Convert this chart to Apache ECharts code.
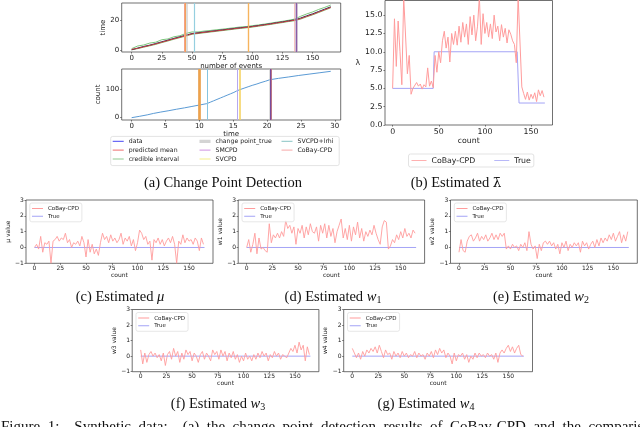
<!DOCTYPE html>
<html><head><meta charset="utf-8">
<script src="https://cdn.jsdelivr.net/npm/echarts@6.0.0/dist/echarts.min.js"></script>
<style>html,body{margin:0;padding:0;background:#fff;overflow:hidden}#c{width:640px;height:427px}</style>
</head><body><div id="c"></div>
<script>
// ---------- DATA ----------
// (a) event times sampled every 5 events
const eventCounts = [0,5,10,15,20,25,30,35,40,45,50,55,60,65,70,75,80,85,90,95,100,105,110,115,120,125,130,135,140,145,150,155,160,165];
const eventTimes = [0.0,1.2,2.3,3.2,4.3,5.5,6.6,7.8,8.9,10.0,11.1,11.6,12.1,12.6,13.1,13.6,14.1,14.6,15.1,15.5,16.0,16.6,17.2,17.8,18.5,19.1,19.8,20.4,21.7,23.2,24.6,26.2,27.8,29.4];
const predMeanTimes = [0.3,1.0,2.0,3.0,4.0,5.2,6.3,7.5,8.6,9.7,10.9,11.4,11.9,12.4,12.9,13.4,13.9,14.4,14.9,15.3,15.8,16.4,17.0,17.6,18.3,18.9,19.6,20.2,21.3,22.8,24.2,25.8,27.4,29.0];
const credUpperTimes = [0.8,2.6,3.3,4.6,5.2,6.9,7.4,8.9,9.6,11.2,12.2,12.2,12.8,13.2,13.7,14.1,14.6,15.1,15.6,15.9,16.5,17.0,17.6,18.2,18.9,19.5,20.2,21.0,22.9,24.5,25.9,27.6,29.0,30.6];
const credLowerTimes = [0.0,0.8,1.8,2.7,3.7,4.9,6.0,7.2,8.3,9.4,10.6,11.1,11.6,12.1,12.6,13.1,13.6,14.1,14.6,15.0,15.5,16.1,16.7,17.3,18.0,18.6,19.3,19.9,21.0,22.5,23.9,25.5,27.1,28.7];
// change points: in events (top panel) and in time (bottom panel)
const cpTrueEvents = [45, 136],   cpTrueTimes = [10.0, 20.5];
const svcpdEvents = [44, 97],     svcpdTimes = [10.0, 15.9];
const svcpdLrhiEvents = [52],     svcpdLrhiTimes = [11.2];
const smcpdEvents = [136],        smcpdTimes = [15.6, 20.5];
const cobayEvents = [44, 135],    cobayTimes = [20.6];
// estimates sampled every 2 counts (0..164)
const countStep = 2;
const lamEst = [5.0,14.5,8.0,14.2,10.0,5.5,17.5,17.5,7.0,9.5,
 4.2,5.0,4.8,5.8,5.3,5.6,4.9,5.5,5.2,7.8,
 5.3,6.0,5.1,9.5,7.2,10.0,8.5,11.5,12.8,10.5,
 12.0,8.6,12.5,11.0,12.8,10.9,13.5,11.3,14.0,12.0,
 13.8,11.0,14.8,12.3,15.0,11.5,13.5,17.5,11.0,15.2,
 12.5,14.0,12.0,13.8,11.8,15.0,12.7,13.5,11.5,13.7,
 12.0,13.2,11.2,13.0,12.4,11.5,11.0,8.5,17.5,17.5,
 5.2,4.3,3.5,4.5,3.4,4.2,3.6,4.4,3.2,4.8,
 4.0,4.7,3.8];
const lamTrueX = [0,44,45,135,137,165];
const lamTrueY = [5,5,10,10,3,3];
const muEst = [0.0,0.2,-0.1,0.7,-0.3,0.3,0.2,0.4,-1.0,0.4,
 0.5,0.7,0.4,0.6,0.5,0.9,0.3,0.5,0.0,0.3,
 0.2,0.4,0.1,0.7,0.3,-0.6,0.5,-0.3,0.2,-0.4,
 -0.1,-0.5,0.3,0.9,0.5,0.7,0.3,0.8,0.4,0.6,
 0.3,0.5,0.9,0.2,0.6,0.4,0.7,0.1,0.5,-0.2,
 0.3,1.1,0.9,0.5,0.7,0.2,0.4,-0.8,0.5,0.3,
 0.6,0.2,0.5,0.1,0.4,0.6,0.3,0.7,0.2,-1.0,
 0.4,0.2,0.8,0.3,0.6,0.4,0.5,0.2,0.6,0.4,
 -0.2,0.6,0.2];
const w1Est = [0.0,0.5,-0.3,0.2,0.9,-0.4,0.6,-0.1,0.0,-0.2,
 -0.3,1.5,0.3,0.8,0.6,0.9,0.6,1.0,0.7,1.7,
 1.2,1.4,0.9,1.3,0.2,1.2,0.9,1.4,0.6,1.3,
 0.8,1.5,1.0,0.9,1.3,0.4,1.4,0.9,1.5,0.6,
 1.4,0.7,1.2,0.3,1.0,1.4,1.8,0.6,1.2,0.5,
 1.4,0.4,1.3,0.8,1.6,0.6,1.2,0.4,1.0,0.7,
 1.1,0.8,1.4,0.9,0.5,0.2,1.3,1.7,1.6,-0.1,
 0.1,0.5,0.3,0.8,0.5,1.0,0.6,1.2,0.7,0.9,
 0.6,1.1,0.9];
const w2Est = [-0.3,0.5,-0.2,-0.3,0.4,0.7,0.8,0.4,0.6,0.9,
 0.4,0.7,0.5,0.8,0.4,0.6,0.9,0.5,0.8,0.5,
 0.9,0.7,0.9,-0.1,0.1,-0.1,0.2,0.0,0.1,-0.2,
 0.2,0.0,0.3,-0.2,1.0,0.2,-0.1,0.1,-0.7,0.2,
 -0.2,0.3,0.4,0.2,0.4,0.1,0.3,-0.1,0.2,-0.4,
 0.3,0.0,0.4,-0.2,0.2,0.0,0.3,0.1,0.3,-0.3,
 0.4,0.1,0.3,-0.1,0.2,0.4,0.0,0.5,0.1,0.6,
 0.3,0.6,0.4,0.8,0.5,0.9,0.4,0.7,1.0,0.3,
 0.8,0.4,1.0];
const w3Est = [0.4,-0.5,0.2,-0.4,0.1,0.3,0.0,0.2,-0.1,0.1,
 -0.3,0.2,-0.6,0.1,0.3,-0.2,0.5,0.0,0.3,-0.4,
 0.2,-0.2,0.4,0.1,0.3,-0.3,0.2,0.0,-0.4,0.1,
 0.3,-0.2,0.2,0.0,-0.3,0.4,0.1,0.3,-0.2,0.4,
 0.0,0.3,-0.3,0.2,-0.1,0.3,-0.2,0.1,-0.4,0.0,
 -0.3,0.2,-0.2,0.0,-0.3,0.1,-0.2,0.2,-0.1,0.3,
 0.0,0.2,-0.3,0.1,-0.1,0.3,0.0,0.2,-0.2,0.1,
 0.0,-0.1,0.2,0.5,0.3,0.7,0.2,0.9,0.4,0.7,
 -0.3,0.6,0.1];
const w4Est = [0.5,0.2,-0.1,0.2,-0.2,0.3,0.0,0.4,0.2,0.5,
 0.3,0.6,0.2,0.7,0.3,-0.1,0.4,0.1,0.2,-0.2,
 0.3,0.0,0.2,-0.1,0.3,0.0,0.2,-0.1,0.1,0.0,
 0.3,-0.1,0.2,0.0,0.1,-0.2,0.2,0.0,0.3,-0.1,
 0.4,0.1,0.5,0.2,0.4,-0.1,0.2,0.0,-0.5,0.2,
 -0.3,0.1,0.0,0.2,-0.2,0.1,-0.4,0.0,-0.2,0.2,
 -0.1,0.2,0.0,0.1,-0.1,0.2,0.0,0.1,-0.2,0.2,
 -0.4,0.2,0.4,0.2,0.5,0.7,0.3,0.6,0.2,0.5,
 0.7,0.1,0.0];
const trueWX = [0,165];
const trueWY = [0,0];
// tick labels
const eventTicks = [0,25,50,75,100,125,150];
const timeYTicks = [0,20];
const timeTicks = [0,5,10,15,20,25,30];
const countYTicks = [0,100];
const lamCountTicks = [0,50,100,150];
const lamTicks = [0,2.5,5,7.5,10,12.5,15];
const countTicks = [0,25,50,75,100,125,150];
const wTicks = [-1,0,1,2,3];

// ---------- CHART ----------
const SANS = 'DejaVu Sans';
const SERIF = 'Liberation Serif';
const PINK = '#ff9c9c', LAV = '#a4a4f6';
const chart = echarts.init(document.getElementById('c'), null, {renderer:'canvas', width:640, height:427});

const fmtNum = v => (v < 0 ? '\u2212' + (-v) : String(v));
function mkAxis(kind, gi, min, max, ticks, o) {
  const fs = o.fs;
  const ax = {
    type:'value', gridIndex:gi, min:min, max:max,
    position: kind === 'x' ? 'bottom' : 'left',
    axisLine:{show:false, onZero:false},
    splitLine:{show:false},
    axisTick:{show:true, inside:false, length:1.6, lineStyle:{color:'#333', width:0.6}, customValues:ticks},
    axisLabel:{show:true, customValues:ticks, fontSize:fs, fontFamily:SANS, color:'#222', margin:o.margin || 2.6, formatter:o.fmt || fmtNum, hideOverlap:false},
    name:o.name, nameLocation:'middle', nameGap:o.gap,
    nameTextStyle:{fontSize:o.nfs || fs, fontFamily:SANS, color:'#222'}
  };
  if (o.rot !== undefined) ax.nameRotate = o.rot;
  return ax;
}
const gridBase = {show:true, borderColor:'#333', borderWidth:0.7, backgroundColor:'transparent', containLabel:false, outerBoundsMode:'none'};
const grids = [
  {left:121.7, top:3, width:219, height:49},
  {left:121.7, top:69, width:219, height:51},
  {left:385, top:0.5, width:167.5, height:124.5},
  {left:26, top:200, width:187, height:63.3},
  {left:238.2, top:200, width:186.4, height:63.3},
  {left:450.5, top:200, width:186.8, height:63.3},
  {left:132.2, top:309.5, width:186.7, height:62.2},
  {left:343.7, top:309.5, width:188.8, height:62.2}
].map(g => Object.assign({}, gridBase, g));

const xAxes = [
  mkAxis('x',0,-8.25,173.25,eventTicks,{fs:7,name:'number of events',gap:6.5}),
  mkAxis('x',1,-1.47,30.87,timeTicks,{fs:7,name:'time',gap:7}),
  mkAxis('x',2,-8.25,173.25,lamCountTicks,{fs:7.8,name:'count',gap:8.5})
];
const yAxes = [
  mkAxis('y',0,-1.5,32,timeYTicks,{fs:7,name:'time',gap:12}),
  mkAxis('y',1,-8.25,173.25,countYTicks,{fs:7,name:'count',gap:15}),
  mkAxis('y',2,0,17,lamTicks,{fs:7.8,name:'\u03bb',gap:19,rot:0,fmt:v=>v.toFixed(1)})
];
const wNames = ['\u03bc value','w1 value','w2 value','w3 value','w4 value'];
for (let k = 0; k < 5; k++) {
  xAxes.push(mkAxis('x',3+k,-8.25,173.25,countTicks,{fs:6,name:'count',gap:7.5,margin:2.2}));
  yAxes.push(mkAxis('y',3+k,-1,3,wTicks,{fs:6,name:wNames[k],gap:9.5,margin:2.2}));
}

function line(name, gi, data, color, width, z) {
  return {type:'line', name:name, xAxisIndex:gi, yAxisIndex:gi, data:data, showSymbol:false, symbol:'none',
    lineStyle:{color:color, width:width}, itemStyle:{color:color}, z:z || 2, animation:false, silent:true, emphasis:{disabled:true}};
}
function vlines(name, gi, items, z) {
  return {type:'line', name:name, xAxisIndex:gi, yAxisIndex:gi, data:[], animation:false, silent:true, z:z || 3,
    itemStyle:{color:items[0].c},
    markLine:{silent:true, symbol:['none','none'], label:{show:false}, animation:false, emphasis:{disabled:true},
      data:items.map(it => ({xAxis:it.v, lineStyle:{color:it.c, width:it.w, type:'solid', opacity:it.o || 1}}))}};
}
const sampled = arr => arr.map((v, i) => [i * countStep, v]);
const pairs = (xs, ys) => xs.map((x, i) => [x, ys[i]]);

const series = [
  line('credible interval', 0, pairs(eventCounts, credUpperTimes), '#5cb85c', 0.8, 2),
  line('credible interval', 0, pairs(eventCounts, credLowerTimes), '#5cb85c', 0.8, 2),
  line('data', 0, pairs(eventCounts, eventTimes), '#1d1d55', 1, 3),
  line('predicted mean', 0, pairs(eventCounts, predMeanTimes), '#d63c3c', 0.9, 4),
  vlines('change point_true', 0, cpTrueEvents.map(v => ({v:v, c:'#bdbdbd', w:3, o:0.5}))),
  vlines('SVCPD', 0, svcpdEvents.map((v, i) => ({v:v, c:i ? '#f6b45e' : '#f3a15a', w:i ? 1.4 : 2}))),
  vlines('SVCPD+lrhi', 0, svcpdLrhiEvents.map(v => ({v:v, c:'#95cfe0', w:1.2}))),
  vlines('SMCPD', 0, smcpdEvents.map(v => ({v:v, c:'#8c5aa8', w:1.4}))),
  vlines('CoBay-CPD', 0, cobayEvents.map(v => ({v:v, c:'#f2a0a0', w:0.8, o:0.8}))),

  line('data', 1, pairs(eventTimes, eventCounts), '#5b9bd5', 1, 3),
  vlines('change point_true', 1, cpTrueTimes.map(v => ({v:v, c:'#bdbdbd', w:3, o:0.5}))),
  vlines('SVCPD', 1, svcpdTimes.map((v, i) => ({v:v, c:i ? '#f5d15a' : '#efa24a', w:i ? 1.5 : 2.6}))),
  vlines('SVCPD+lrhi', 1, svcpdLrhiTimes.map(v => ({v:v, c:'#86c4e0', w:1}))),
  vlines('SMCPD', 1, smcpdTimes.map((v, i) => ({v:v, c:i ? '#7a4b9c' : '#b6a8f0', w:i ? 2 : 1}))),
  vlines('CoBay-CPD', 1, cobayTimes.map(v => ({v:v, c:'#c98080', w:0.8}))),

  line('CoBay-CPD', 2, sampled(lamEst), PINK, 1, 3),
  line('True', 2, pairs(lamTrueX, lamTrueY), LAV, 1, 2)
];
[muEst, w1Est, w2Est, w3Est, w4Est].forEach((arr, k) => {
  series.push(line('CoBay-CPD', 3 + k, sampled(arr), PINK, 0.9, 3));
  series.push(line('True', 3 + k, pairs(trueWX, trueWY), LAV, 1, 2));
});

function icon(w, h, th) {
  const a = (h - th) / 2, b = (h + th) / 2;
  return 'path://M0,0L0.001,0M0,' + a + 'L' + w + ',' + a + 'L' + w + ',' + b + 'L0,' + b + 'ZM' + w + ',' + h + 'L' + (w - 0.001) + ',' + h;
}
function legItem(name, color, w, h, th) {
  return {name:name, icon:icon(w, h, th), itemStyle:{color:color, borderWidth:0}};
}
const LA = {w:11, h:7.5};
function legendA(left, items) {
  return {orient:'vertical', left:left, top:137.6, padding:0, itemWidth:LA.w, itemHeight:LA.h, itemGap:1.3,
    selectedMode:false, itemStyle:{borderWidth:0},
    textStyle:{fontSize:6.2, lineHeight:7.5, fontFamily:SANS, color:'#222'},
    data:items.map(it => legItem(it[0], it[1], LA.w, LA.h, it[2] || 1.1))};
}
const legends = [
  legendA(112.7, [['data','#6b6bf5'],['predicted mean','#f28a8a'],['credible interval','#8fc98f']]),
  legendA(199.5, [['change point_true','#d4d4d4',3.2],['SMCPD','#d9a8e8'],['SVCPD','#f6ef8a']]),
  legendA(281.5, [['SVCPD+lrhi','#9fcfcf'],['CoBay-CPD','#f9baba']]),
  {orient:'horizontal', left:408.5, top:154, padding:[2.5,3,2.5,3], itemWidth:15, itemHeight:8, itemGap:19,
    selectedMode:false, borderColor:'#dcdcdc', borderWidth:0.8, borderRadius:2, backgroundColor:'#fff',
    itemStyle:{borderWidth:0},
    textStyle:{fontSize:7.8, lineHeight:8, fontFamily:SANS, color:'#222'},
    data:[legItem('CoBay-CPD', '#ffb0b0', 15, 8, 1.2), legItem('True', '#b8b8f8', 15, 8, 1.2)]}
];
grids.slice(3).forEach(g => {
  legends.push({orient:'vertical', left:g.left + 3.8, top:g.top + 3, padding:[2.4,3,2.4,2.2], itemWidth:11, itemHeight:6.4, itemGap:1.2,
    selectedMode:false, borderColor:'#dcdcdc', borderWidth:0.7, borderRadius:2, backgroundColor:'rgba(255,255,255,0.85)',
    itemStyle:{borderWidth:0},
    textStyle:{fontSize:5.5, lineHeight:6.4, fontFamily:SANS, color:'#222'},
    data:[legItem('CoBay-CPD', PINK, 11, 6.4, 1), legItem('True', LAV, 11, 6.4, 1)]});
});

const CFS = 14.5;
const capRich = {
  n:{fontFamily:SERIF, fontSize:CFS, lineHeight:16, fill:'#111', color:'#111'},
  l:{fontFamily:'DejaVu Serif', fontSize:13.5, lineHeight:16, fill:'#111', color:'#111'},
  i:{fontFamily:SERIF, fontSize:CFS, lineHeight:16, fontStyle:'italic', fill:'#111', color:'#111'},
  s:{fontFamily:SERIF, fontSize:10, lineHeight:10, verticalAlign:'bottom', fill:'#111', color:'#111'}
};
function caption(x, y, text) {
  return {type:'text', x:x, y:y, z:10, silent:true,
    style:{text:text, rich:capRich, font:CFS + 'px "' + SERIF + '"', fill:'#111', align:'center', verticalAlign:'middle', textAlign:'center', textVerticalAlign:'middle'}};
}
const figCaption = 'Figure 1:  Synthetic data:  (a) the change point detection results of CoBay-CPD and the comparison with other methods';
const graphics = [
  {type:'rect', shape:{x:110.7, y:136.4, width:228.5, height:29.2, r:2}, z:1, silent:true,
    style:{fill:'#fff', stroke:'#dcdcdc', lineWidth:0.8}},
  caption(223, 183, '{n|(a) Change Point Detection}'),
  caption(456, 183, '{n|(b) Estimated }{l|\u03bb\u0304}'),
  caption(120, 297, '{n|(c) Estimated }{i|\u03bc}'),
  caption(333, 297, '{n|(d) Estimated }{i|w}{s|1}'),
  caption(541, 297, '{n|(e) Estimated }{i|w}{s|2}'),
  caption(218, 404, '{n|(f) Estimated }{i|w}{s|3}'),
  caption(426, 404, '{n|(g) Estimated }{i|w}{s|4}'),
  {type:'text', x:1, y:419.5, z:10, silent:true,
    style:{text:figCaption.split(' ').join('\u2002'),
      font:'15px "' + SERIF + '"', fill:'#111', align:'left', verticalAlign:'top', textAlign:'left', textVerticalAlign:'top'}}
];

chart.setOption({
  animation:false,
  backgroundColor:'#fff',
  grid:grids, xAxis:xAxes, yAxis:yAxes,
  legend:legends, series:series, graphic:graphics
});
</script></body></html>
